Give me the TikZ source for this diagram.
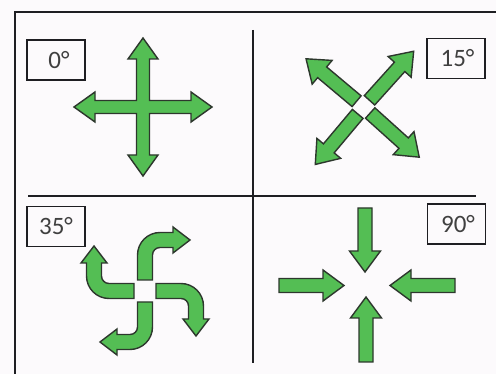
\documentclass[tikz,border=0pt]{standalone}
\usepackage{fontspec}
\setmainfont{Carlito}
\definecolor{agreen}{RGB}{84,190,84}
\definecolor{aline}{RGB}{45,55,45}
\definecolor{frame}{RGB}{30,30,34}
\definecolor{paper}{RGB}{252,250,252}
\tikzset{
  arrowshape/.style={fill=agreen, draw=aline, line width=1.4pt, line join=miter},
  framel/.style={draw=frame, line width=2pt},
  labelbox/.style={draw=frame, line width=1.8pt, minimum width=58pt, minimum height=40pt,
    inner sep=0pt, font=\fontsize{25}{27}\selectfont, text=black!75},
}
% straight arrow: #1 scope options, shaft from #2 to tip at #3 along +x
\newcommand\sw{7}
\newcommand\hw{15.5}
\newcommand\hl{21}
\newcommand\garrow[3]{\begin{scope}[#1]
  \draw[arrowshape] (#2,-\sw) -- ({#3-\hl},-\sw) -- ({#3-\hl},-\hw) -- (#3,0)
    -- ({#3-\hl},\hw) -- ({#3-\hl},\sw) -- (#2,\sw) -- cycle;
\end{scope}}
% curved pinwheel arm (top arm, pointing up then right), rotated by #1
\newcommand\carm[1]{\begin{scope}[rotate=#1]
  \draw[arrowshape] (-7.5,11) -- (-7.5,36) arc[start angle=180, end angle=90, radius=22.5]
    -- (28,58.5) -- (28,64) -- (45,51) -- (28,38) -- (28,43.5) -- (15,43.5)
    arc[start angle=90, end angle=180, radius=7.5] -- (7.5,11) -- cycle;
\end{scope}}
\begin{document}
\begin{tikzpicture}[x=1pt,y=1pt]
\fill[paper] (0,0) rectangle (496,-374);
\useasboundingbox (0,0) rectangle (496,-374);
% frame
\draw[framel] (496,-12) -- (15,-12) -- (15,-374);
\draw[framel] (253,-30) -- (253,-363);
\draw[framel] (28,-196) -- (476,-196);
% labels
\node[labelbox] (l0) at (56,-60) {\hspace{6pt}0°};
\node[labelbox] (l15) at (456,-58.5) {\hspace{3pt}15°};
\node[labelbox] (l35) at (56,-226.5) {35°};
\node[labelbox] (l90) at (456.5,-224) {\hspace{3pt}90°};
% 0 degrees: cross
\begin{scope}[shift={(143,-107)}]
  \draw[arrowshape] (6.5,6.5) -- (48,6.5) -- (48,15) -- (69,0) -- (48,-15) -- (48,-6.5)
    -- (6.5,-6.5) -- (6.5,-48) -- (15,-48) -- (0,-69) -- (-15,-48) -- (-6.5,-48)
    -- (-6.5,-6.5) -- (-48,-6.5) -- (-48,-15) -- (-69,0) -- (-48,15) -- (-48,6.5)
    -- (-6.5,6.5) -- (-6.5,48) -- (-15,48) -- (0,69) -- (15,48) -- (6.5,48) -- cycle;
\end{scope}
% 15 degrees: diagonal arrows
\garrow{shift={(363.5,-107)},rotate=48}{9}{75}
\garrow{shift={(363.5,-107)},rotate=140}{9}{75}
\garrow{shift={(363.5,-107)},rotate=230}{9}{75}
\garrow{shift={(363.5,-107)},rotate=318}{9}{75}
% 35 degrees: pinwheel
\begin{scope}[shift={(145,-291)}]
  \carm{0}
  \carm{-90}
  \carm{-180}
  \carm{-270}
\end{scope}
% 90 degrees: inward arrows
\garrow{shift={(365,-208)},rotate=-90}{0}{64}
\garrow{shift={(366,-362)},rotate=90}{0}{65}
\garrow{shift={(279,-285.5)},rotate=0}{0}{65}
\garrow{shift={(455,-285.5)},rotate=180}{0}{65}
\end{tikzpicture}
\end{document}
